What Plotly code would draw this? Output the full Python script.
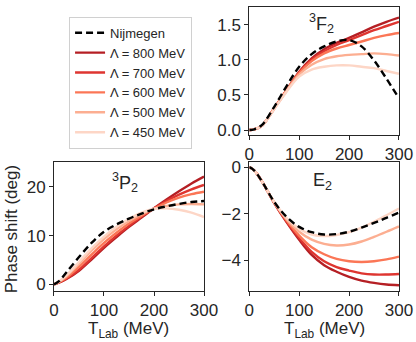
import plotly.graph_objects as go

# lab energies (MeV)
t_lab = [0, 10, 25, 50, 75, 100, 125, 150, 175, 200, 225, 250, 275, 300]

cutoffs = ["800", "700", "600", "500", "450"]
colors = ["#b51f24", "#de3530", "#fb7656", "#fcae91", "#fdd6c6"]

# 3F2 phase shifts (deg)
f2_nij = [0, 0.01, 0.07, 0.33, 0.63, 0.90, 1.08, 1.19, 1.26, 1.28, 1.19, 0.99, 0.73, 0.45]
f2_800 = [0, 0.01, 0.06, 0.31, 0.57, 0.83, 1.02, 1.15, 1.24, 1.31, 1.39, 1.47, 1.54, 1.60]
f2_700 = [0, 0.01, 0.06, 0.31, 0.57, 0.82, 1.00, 1.12, 1.21, 1.28, 1.35, 1.42, 1.48, 1.54]
f2_600 = [0, 0.01, 0.06, 0.31, 0.57, 0.81, 0.98, 1.09, 1.16, 1.21, 1.26, 1.31, 1.35, 1.38]
f2_500 = [0, 0.01, 0.06, 0.30, 0.56, 0.79, 0.93, 1.01, 1.05, 1.07, 1.08, 1.09, 1.08, 1.06]
f2_450 = [0, 0.01, 0.06, 0.30, 0.55, 0.76, 0.86, 0.90, 0.92, 0.92, 0.90, 0.88, 0.84, 0.80]

# 3P2 phase shifts (deg)
p2_nij = [0, 0.65, 2.5, 5.6, 8.5, 10.8, 12.3, 13.5, 14.5, 15.4, 16.0, 16.5, 16.9, 17.1]
p2_800 = [0, 0.35, 1.1, 2.8, 5.1, 7.5, 9.7, 11.8, 13.7, 15.6, 17.4, 19.1, 20.7, 22.1]
p2_700 = [0, 0.38, 1.2, 3.0, 5.4, 7.8, 10.0, 12.0, 13.9, 15.6, 17.1, 18.4, 19.5, 20.4]
p2_600 = [0, 0.45, 1.4, 3.6, 6.1, 8.5, 10.6, 12.5, 14.1, 15.5, 16.8, 17.8, 18.5, 19.0]
p2_500 = [0, 0.55, 1.7, 4.2, 6.9, 9.3, 11.3, 13.0, 14.4, 15.5, 16.1, 16.4, 16.5, 16.4]
p2_450 = [0, 0.6, 1.9, 4.6, 7.4, 9.8, 11.8, 13.4, 14.7, 15.5, 15.6, 15.3, 14.7, 13.8]

# E2 mixing angle (deg)
e2_nij = [0, -0.15, -0.6, -1.5, -2.15, -2.57, -2.8, -2.9, -2.88, -2.78, -2.6, -2.4, -2.18, -1.95]
e2_800 = [0, -0.15, -0.6, -1.55, -2.38, -3.13, -3.78, -4.22, -4.5, -4.72, -4.88, -4.98, -5.05, -5.08]
e2_700 = [0, -0.15, -0.6, -1.54, -2.35, -3.05, -3.65, -4.05, -4.3, -4.45, -4.57, -4.62, -4.62, -4.6]
e2_600 = [0, -0.15, -0.6, -1.53, -2.3, -2.95, -3.45, -3.75, -3.95, -4.05, -4.08, -4.05, -3.97, -3.85]
e2_500 = [0, -0.15, -0.6, -1.52, -2.25, -2.78, -3.12, -3.3, -3.37, -3.33, -3.2, -3.0, -2.78, -2.55]
e2_450 = [0, -0.15, -0.6, -1.5, -2.2, -2.65, -2.9, -2.97, -2.92, -2.8, -2.6, -2.35, -2.07, -1.78]

panels = [
    ("x", "y", f2_nij, [f2_800, f2_700, f2_600, f2_500, f2_450]),
    ("x2", "y2", p2_nij, [p2_800, p2_700, p2_600, p2_500, p2_450]),
    ("x3", "y3", e2_nij, [e2_800, e2_700, e2_600, e2_500, e2_450]),
]

fig = go.Figure()
for i, (xa, ya, nij, lams) in enumerate(panels):
    for k in range(len(cutoffs)):
        fig.add_trace(go.Scatter(
            x=t_lab, y=lams[k], xaxis=xa, yaxis=ya, mode="lines",
            line=dict(color=colors[k], width=2.4, shape="spline"),
            name="Λ = " + cutoffs[k] + " MeV", legendrank=k + 2,
            showlegend=(i == 0)))
    fig.add_trace(go.Scatter(
        x=t_lab, y=nij, xaxis=xa, yaxis=ya, mode="lines",
        line=dict(color="black", width=2.4, dash="7px,4px", shape="spline"),
        name="Nijmegen", legendrank=1, showlegend=(i == 0)))

ax = dict(showline=True, mirror=True, linecolor="#262626", linewidth=1, automargin=False,
          ticks="outside", ticklen=4, tickwidth=1, tickcolor="#262626",
          showgrid=False, zeroline=False, tickfont=dict(size=17, color="#262626"))

fig.update_layout(
    width=416, height=342, margin=dict(l=0, r=0, t=0, b=0),
    plot_bgcolor="white", paper_bgcolor="white",
    font=dict(family="Liberation Sans, Arial", color="#262626"),
    xaxis=dict(ax, domain=[0.5993, 0.9591], range=[0, 300], tickvals=[0, 100, 200, 300], anchor="y"),
    yaxis=dict(ax, domain=[0.6053, 0.9795], range=[-0.07, 1.75], tickvals=[0, 0.5, 1.0, 1.5],
               tickformat=".1f", anchor="x"),
    xaxis2=dict(ax, domain=[0.1298, 0.4904], range=[0, 300], tickvals=[0, 100, 200, 300], anchor="y2"),
    yaxis2=dict(ax, domain=[0.1491, 0.5263], range=[-1.36, 25.1], tickvals=[0, 10, 20], anchor="x2"),
    xaxis3=dict(ax, domain=[0.5993, 0.9591], range=[0, 300], tickvals=[0, 100, 200, 300], anchor="y3"),
    yaxis3=dict(ax, domain=[0.1491, 0.5263], range=[-5.33, 0.22], tickvals=[0, -2, -4],
                tickformat=".0f", anchor="x3"),
    legend=dict(x=0.166, y=0.951, xanchor="left", yanchor="top", bgcolor="white",
                bordercolor="#d0d0d0", borderwidth=1, font=dict(size=13, color="#262626"),
                tracegroupgap=0),
)

notes = [
    ("<sup>3</sup>F<sub>2</sub>", 0.772, 0.930, 18),
    ("<sup>3</sup>P<sub>2</sub>", 0.300, 0.465, 18),
    ("E<sub>2</sub>", 0.776, 0.470, 18),
    ("T<sub>Lab</sub> (MeV)", 0.310, 0.035, 17),
    ("T<sub>Lab</sub> (MeV)", 0.779, 0.035, 17),
]
for txt, xp, yp, sz in notes:
    fig.add_annotation(text=txt, x=xp, y=yp, xref="paper", yref="paper",
                       xanchor="center", yanchor="middle",
                       showarrow=False, font=dict(size=sz, color="#262626"))
fig.add_annotation(text="Phase shift (deg)", x=0.027, y=0.330, xref="paper", yref="paper",
                   xanchor="center", yanchor="middle",
                   textangle=-90, showarrow=False, font=dict(size=17, color="#262626"))

fig.write_html("out.html", config={"displayModeBar": False},
               post_script="document.body.style.margin='0';")
